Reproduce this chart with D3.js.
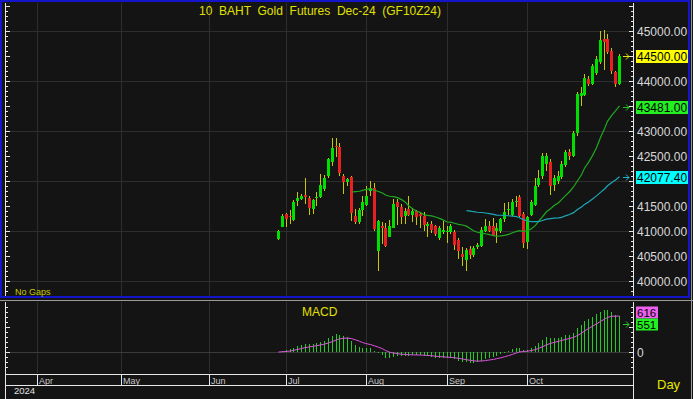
<!DOCTYPE html>
<html>
<head>
<meta charset="utf-8">
<script src="https://cdn.jsdelivr.net/npm/d3@7"></script>
<style>
  body { margin: 0; background: #141414; }
  svg { display: block; font-family: Arial, "Liberation Sans", sans-serif; }
</style>
</head>
<body>
<svg id="chart" width="693" height="399"></svg>
<script>
const title = "10  BAHT  Gold  Futures  Dec-24  (GF10Z24)";
const months = ["Apr", "May", "Jun", "Jul", "Aug", "Sep", "Oct"];
const monthStart = [0, 22, 45, 65, 86, 107, 128]; // session index of 1st trading day
const firstBar = 63; // session index of the first candle

const open = [40850,41090,41340,41310,41220,41610,41640,41730,41670,41450,
  41660,41680,41840,42100,42380,42710,42680,42110,41980,42080,
  41310,41180,41420,41520,41800,41870,40600,41110,41070,40890,
  41070,41580,41490,41310,41440,41320,41400,41350,41300,41100,
  41140,41100,40870,40980,40990,40980,40980,40830,40550,40420,
  40640,40520,40680,40700,41000,41100,41110,41000,41010,41250,
  41420,41320,41580,41680,41350,40780,41330,41520,41920,42110,
  42350,42380,41920,42000,42090,42330,42580,42510,42960,43700,
  43730,44050,43950,44160,44380,44850,44850,44600,44180,43950];
const high = [41020,41340,41370,41420,41620,41780,41740,42070,41710,41650,
  41790,42140,42130,42460,42870,42860,42770,42140,42060,42100,
  41450,41460,41710,41900,42000,41970,41230,41190,41170,41220,
  41650,41650,41550,41470,41700,41470,41430,41380,41380,41180,
  41200,41130,41100,41200,41100,41140,41020,40860,40690,40660,
  40700,40700,40760,41080,41250,41200,41260,41170,41270,41560,
  41580,41650,41710,41720,41380,41300,41620,42060,42220,42570,
  42560,42450,42120,42200,42400,42620,42650,43000,43780,43890,
  44150,44100,44350,44500,45000,45020,44950,44660,44200,44540];
const low = [40830,41080,41090,41140,41210,41510,41620,41540,41330,41350,
  41500,41670,41810,42060,42300,42480,42100,41750,41900,41200,
  41140,41150,41300,41500,41700,41000,40200,40740,40690,40880,
  41060,41130,41150,41150,41300,41180,41130,41070,41010,40890,
  40960,40900,40820,40950,40770,40950,40620,40450,40310,40210,
  40450,40480,40650,40680,40980,40990,40900,40770,40960,41180,
  41320,41300,41490,41280,40660,40650,41300,41500,41880,42050,
  42200,41720,41800,41950,42050,42280,42420,42480,42900,43500,
  43700,43900,43920,44120,44350,44230,44550,44150,43880,43920];
const close = [41000,41310,41235,41290,41590,41670,41710,41690,41470,41630,
  41680,41920,42070,42440,42670,42680,42160,41990,42040,41360,
  41180,41430,41580,41710,41860,41050,41200,41070,40700,41100,
  41550,41490,41290,41400,41330,41400,41290,41310,41130,41150,
  41030,40940,41060,41020,41000,41110,40720,40600,40480,40630,
  40520,40660,40720,41030,41110,41010,40930,41070,41240,41380,
  41440,41580,41600,41300,40760,41280,41580,41910,42070,42510,
  42500,41900,42060,42100,42350,42580,42500,42960,43740,43760,
  44060,43940,44300,44450,44830,44780,44580,44210,43940,44500];

const priceLabels = [40000,40500,41000,41500,42000,42500,43000,43500,44000,44500,45000];
const priceGrid = [40000,41000,42000,43000,44000,45000];
const macdLabels = [0, 500];
const lastValues = [
  { v: 44500.00, txt: "44500.00", bg: "#ffff00", arrow: "#e8e800" },
  { v: 43481.00, txt: "43481.00", bg: "#22ee22", arrow: "#22cc22" },
  { v: 42077.40, txt: "42077.40", bg: "#00ffff", arrow: "#20b8c8" }
];
const macdLast = [
  { v: 616, txt: "616", bg: "#f060f0" },
  { v: 551, txt: "551", bg: "#22ee22", arrow: "#22cc22" }
];

// ---- indicators from closes ----
function sma(vals, n) {
  return vals.map((v, i) => (i < n - 1 ? null : d3.mean(vals.slice(i - n + 1, i + 1))));
}
function ema(vals, n) {
  const k = 2 / (n + 1);
  let e = vals[0];
  return vals.map((v, i) => (i === 0 ? e : (e = v * k + e * (1 - k))));
}
const sma20 = sma(close, 20);
const sma50 = sma(close, 50);
const e12 = ema(close, 12), e26 = ema(close, 26);
const macd = e12.map((v, i) => v - e26[i]);
const signal = ema(macd, 9);

// ---- layout ----
const svg = d3.select("#chart");
const W = 693, H = 399;
const plotL = 5, plotR = 633;
const mainT = 3, mainB = 296;
const macdT = 302, macdB = 373;
const axT = 374, axB = 385;

const x = d3.scaleLinear().domain([monthStart[0], monthStart[6]]).range([37, 527]);
const y = d3.scaleLinear().domain([40000, 45000]).range([281, 31]);
const ym = d3.scaleLinear().domain([0, 500]).range([352, 327]);
const bx = (i) => Math.round(x(firstBar + i));

svg.append("rect").attr("width", W).attr("height", H).attr("fill", "#141414");

const defs = svg.append("defs");
defs.append("clipPath").attr("id", "clipMain")
  .append("rect").attr("x", plotL).attr("y", mainT).attr("width", plotR - plotL).attr("height", mainB - mainT);
defs.append("clipPath").attr("id", "clipMacd")
  .append("rect").attr("x", plotL).attr("y", macdT).attr("width", plotR - plotL).attr("height", macdB - macdT);

const grid = svg.append("g").attr("stroke", "#2e2e2e").attr("shape-rendering", "crispEdges");
priceGrid.forEach((p) => {
  grid.append("line").attr("x1", plotL).attr("x2", plotR).attr("y1", Math.round(y(p)) + 0.5).attr("y2", Math.round(y(p)) + 0.5);
});
monthStart.forEach((m) => {
  const xx = Math.round(x(m)) + 0.5;
  grid.append("line").attr("x1", xx).attr("x2", xx).attr("y1", mainT).attr("y2", mainB);
  grid.append("line").attr("x1", xx).attr("x2", xx).attr("y1", macdT).attr("y2", macdB);
});
grid.append("line").attr("x1", plotL).attr("x2", plotR)
  .attr("y1", Math.round(ym(0)) + 0.5).attr("y2", Math.round(ym(0)) + 0.5).attr("stroke", "#3a3a3a");

// ---- candles ----
const main = svg.append("g").attr("clip-path", "url(#clipMain)").attr("shape-rendering", "crispEdges");
main.selectAll("line.wick").data(close).enter().append("line")
  .attr("class", "wick")
  .attr("x1", (d, i) => bx(i) + 0.5).attr("x2", (d, i) => bx(i) + 0.5)
  .attr("y1", (d, i) => y(high[i])).attr("y2", (d, i) => y(low[i]))
  .attr("stroke", "#c8c800");
main.selectAll("rect.body").data(close).enter().append("rect")
  .attr("class", "body")
  .attr("x", (d, i) => bx(i) - 1)
  .attr("width", 3)
  .attr("y", (d, i) => Math.min(y(open[i]), y(d)))
  .attr("height", (d, i) => Math.max(1, Math.abs(y(open[i]) - y(d))))
  .attr("fill", (d, i) => (d >= open[i] ? "#00e000" : "#e82020"));

const line = d3.line().defined((d) => d != null).x((d, i) => bx(i) + 0.5).y((d) => y(d));
const lineG = svg.append("g").attr("clip-path", "url(#clipMain)");
lineG.append("path").attr("d", line(sma20)).attr("fill", "none").attr("stroke", "#1fa81f").attr("stroke-width", 1.2);
lineG.append("path").attr("d", line(sma50)).attr("fill", "none").attr("stroke", "#1ca8b8").attr("stroke-width", 1.2);

// ---- MACD ----
const mg = svg.append("g").attr("clip-path", "url(#clipMacd)");
mg.selectAll("line.hist").data(macd).enter().append("line")
  .attr("x1", (d, i) => bx(i) + 0.5).attr("x2", (d, i) => bx(i) + 0.5)
  .attr("y1", ym(0)).attr("y2", (d) => ym(d))
  .attr("stroke", "#22cc22").attr("shape-rendering", "crispEdges");
mg.append("path")
  .attr("d", d3.line().x((d, i) => bx(i) + 0.5).y((d) => ym(d))(signal))
  .attr("fill", "none").attr("stroke", "#e050e0").attr("stroke-width", 1);

// ---- axes ----
const ax = svg.append("g").attr("stroke", "#e8e8e8").attr("shape-rendering", "crispEdges");
ax.append("line").attr("x1", plotL + 0.5).attr("x2", plotL + 0.5).attr("y1", mainT).attr("y2", mainB);
ax.append("line").attr("x1", plotL + 0.5).attr("x2", plotL + 0.5).attr("y1", macdT).attr("y2", H);
ax.append("line").attr("x1", plotR + 0.5).attr("x2", plotR + 0.5).attr("y1", mainT).attr("y2", mainB);
ax.append("line").attr("x1", plotR + 0.5).attr("x2", plotR + 0.5).attr("y1", macdT).attr("y2", H);
d3.range(39700, 45600, 100).forEach((p) => {
  const yy = Math.round(y(p)) + 0.5;
  if (yy < mainT + 1 || yy > mainB - 1) return;
  const len = p % 500 === 0 ? 4 : 2;
  ax.append("line").attr("x1", plotL).attr("x2", plotL + 1 + len).attr("y1", yy).attr("y2", yy);
  ax.append("line").attr("x1", plotR - len).attr("x2", plotR).attr("y1", yy).attr("y2", yy);
});
d3.range(-500, 1100, 100).forEach((v) => {
  const yy = Math.round(ym(v)) + 0.5;
  if (yy < macdT + 2 || yy > macdB - 1) return;
  const len = v % 500 === 0 ? 4 : 2;
  ax.append("line").attr("x1", plotL).attr("x2", plotL + 1 + len).attr("y1", yy).attr("y2", yy);
  ax.append("line").attr("x1", plotR - len).attr("x2", plotR).attr("y1", yy).attr("y2", yy);
});
// date axis
ax.append("line").attr("x1", plotL).attr("x2", plotR).attr("y1", axT + 0.5).attr("y2", axT + 0.5);
ax.append("line").attr("x1", plotL).attr("x2", plotR).attr("y1", axB + 0.5).attr("y2", axB + 0.5);
monthStart.forEach((m) => {
  const xx = Math.round(x(m)) + 0.5;
  ax.append("line").attr("x1", xx).attr("x2", xx).attr("y1", axT).attr("y2", axB);
});
svg.selectAll("text.month").data(months).enter().append("text")
  .attr("x", (d, i) => Math.round(x(monthStart[i])) + 2)
  .attr("y", axB - 1)
  .attr("font-size", 9).attr("fill", "#c8c8c8")
  .text((d) => d);
svg.append("text").attr("x", 14).attr("y", 394).attr("font-size", 9.5).attr("fill", "#e0e0e0").text("2024");

// price labels (those hidden behind a last-value box are left out)
const boxY = lastValues.map((d) => y(d.v));
svg.selectAll("text.price")
  .data(priceLabels.filter((p) => boxY.every((b) => Math.abs(y(p) - b) > 13)))
  .enter().append("text")
  .attr("x", 637).attr("y", (d) => y(d) + 4.5)
  .attr("font-size", 12).attr("fill", "#d8d8d8")
  .text((d) => d3.format(".2f")(d));
const lowBox = Math.round(ym(macdLast[1].v)) + 0.5;
svg.selectAll("text.macdv")
  .data(macdLabels.filter((v) => Math.abs(ym(v) - lowBox) > 18))
  .enter().append("text")
  .attr("x", 637).attr("y", (d) => ym(d) + 4.5)
  .attr("font-size", 12).attr("fill", "#d8d8d8")
  .text((d) => d);

// last value markers
function arrow(yy, color) {
  svg.append("path")
    .attr("d", `M623,${yy} h6 M626,${yy - 3} l3,3 l-3,3`)
    .attr("fill", "none").attr("stroke", color).attr("stroke-width", 1);
}
lastValues.forEach((d) => {
  const yy = Math.round(y(d.v)) + 0.5;
  arrow(yy, d.arrow);
  svg.append("rect").attr("x", 636).attr("y", yy - 6.5).attr("width", 52).attr("height", 13).attr("fill", d.bg);
  svg.append("text").attr("x", 637).attr("y", yy + 4.5).attr("font-size", 12).attr("fill", "#000").text(d.txt);
});
[lowBox - 12, lowBox].forEach((yy, k) => {
  const d = macdLast[k];
  if (d.arrow) arrow(yy, d.arrow);
  svg.append("rect").attr("x", 636).attr("y", yy - 6).attr("width", 22).attr("height", 12).attr("fill", d.bg);
  svg.append("text").attr("x", 637).attr("y", yy + 4).attr("font-size", 11.5).attr("fill", "#000").text(d.txt);
});

// ---- frames ----
svg.append("rect").attr("x", 1).attr("y", 1).attr("width", 688).attr("height", 296)
  .attr("fill", "none").attr("stroke", "#1414c8").attr("stroke-width", 2);
svg.append("line").attr("x1", 0).attr("x2", W).attr("y1", 300.5).attr("y2", 300.5).attr("stroke", "#9a9a9a");
svg.append("line").attr("x1", 691.5).attr("x2", 691.5).attr("y1", 0).attr("y2", H).attr("stroke", "#9a9a9a");

// ---- texts ----
svg.append("text").attr("x", 320).attr("y", 15).attr("text-anchor", "middle")
  .attr("font-size", 12).attr("fill", "#e0e000").style("white-space", "pre").text(title);
svg.append("text").attr("x", 15).attr("y", 295).attr("font-size", 9).attr("fill", "#c8c800").text("No Gaps");
svg.append("text").attr("x", 302).attr("y", 316).attr("font-size", 12).attr("fill", "#e0e000").text("MACD");
svg.append("text").attr("x", 657).attr("y", 389).attr("font-size", 13).attr("fill", "#e8e800").text("Day");
</script>
</body>
</html>
